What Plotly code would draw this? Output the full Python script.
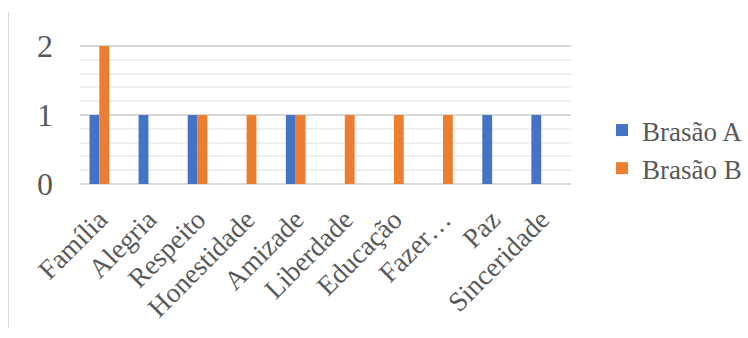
import plotly.graph_objects as go

categories = ["Família", "Alegria", "Respeito", "Honestidade", "Amizade",
              "Liberdade", "Educação", "Fazer…", "Paz", "Sinceridade"]
brasao_a = [1, 1, 1, 0, 1, 0, 0, 0, 1, 1]
brasao_b = [2, 0, 1, 1, 1, 1, 1, 1, 0, 0]
y_ticks = [0, 1, 2]

W, H = 748, 338
L, R, T, B = 80, 177, 44, 154
PW, PH = W - L - R, H - T - B
FONT = "Liberation Serif, Times New Roman, serif"
GREY = "#595959"
YMAX = 2.03

fig = go.Figure()
fig.add_trace(go.Bar(name="Brasão A", x=categories, y=brasao_a,
                     marker=dict(color="#4472C4", line=dict(width=0))))
fig.add_trace(go.Bar(name="Brasão B", x=categories, y=brasao_b,
                     marker=dict(color="#ED7D31", line=dict(width=0))))

fig.update_layout(
    width=W, height=H,
    margin=dict(l=L, r=R, t=T, b=B, pad=0, autoexpand=False),
    paper_bgcolor="white", plot_bgcolor="white",
    barmode="group", bargap=0.6, bargroupgap=0,
    font=dict(family=FONT, color=GREY),
    showlegend=True,
    legend=dict(x=(602 - L) / PW, xanchor="left",
                y=1 - (106 - T) / PH, yanchor="top",
                font=dict(size=27, family=FONT, color=GREY),
                bgcolor="rgba(0,0,0,0)", borderwidth=0),
    xaxis=dict(range=[-0.393, 9.607], tickangle=-45,
               tickfont=dict(size=27.5, family=FONT, color=GREY),
               showgrid=False, showline=False, zeroline=False,
               ticks="", ticklabelstandoff=13, automargin=False),
    yaxis=dict(range=[0, YMAX], tickvals=y_ticks,
               tickfont=dict(size=32, family=FONT, color=GREY),
               showgrid=True, gridcolor="#d9d9d9", gridwidth=1.6,
               zeroline=True, zerolinecolor="#d9d9d9", zerolinewidth=1.6,
               showline=False, ticks="", ticklabelstandoff=26,
               automargin=False,
               minor=dict(dtick=0.2, showgrid=True, gridcolor="#efefef",
                          gridwidth=1.5)),
)

fig.add_shape(type="line", xref="paper", yref="paper",
              x0=(8.5 - L) / PW, x1=(8.5 - L) / PW,
              y0=1 + (T - 12) / PH, y1=-(328 - (H - B)) / PH,
              line=dict(color="#d9d9d9", width=1))

fig.write_html("out.html")
